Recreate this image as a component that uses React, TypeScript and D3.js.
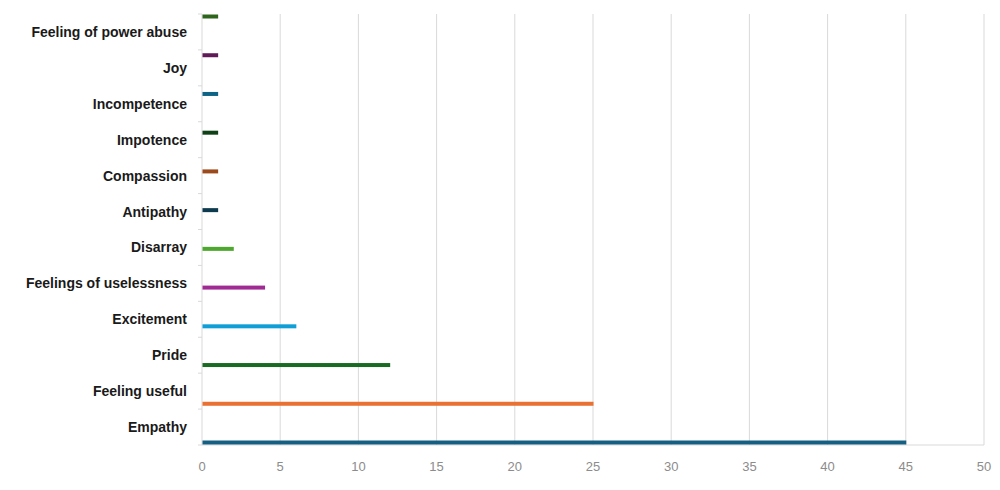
import React from "react";
import * as d3 from "d3";

const categories = [
  "Feeling of power abuse",
  "Joy",
  "Incompetence",
  "Impotence",
  "Compassion",
  "Antipathy",
  "Disarray",
  "Feelings of uselessness",
  "Excitement",
  "Pride",
  "Feeling useful",
  "Empathy",
];
const values = [1, 1, 1, 1, 1, 1, 2, 4, 6, 12, 25, 45];
const colors = [
  "#2f641c",
  "#601a58",
  "#0f6385",
  "#0f4016",
  "#9c4a1c",
  "#0d3a4e",
  "#4ea72e",
  "#a02b93",
  "#0f9ed5",
  "#196b24",
  "#e97132",
  "#156082",
];
const xTicks = [0, 5, 10, 15, 20, 25, 30, 35, 40, 45, 50];

const W = 1000;
const H = 490;
const left = 202;
const right = 984;
const top = 14;
const bottom = 445;

export default function App() {
  const x = d3.scaleLinear().domain([0, 50]).range([left, right]);
  const y = d3.scaleBand<string>().domain(categories).range([top, bottom]).paddingInner(0);
  const bw = y.bandwidth();
  // series order: Empathy (last category) is series 0 at bottom of cluster
  const seriesIdx = categories.map((_, i) => i);
  const inner = d3
    .scaleBand<number>()
    .domain(seriesIdx)
    .range([bw - 1.1, 1.1]);
  const barH = 4;

  return (
    <svg
      width={W}
      height={H}
      style={{ position: "absolute", left: 0, top: 0, background: "#fff" }}
      fontFamily="'Liberation Sans', Arial, sans-serif"
    >
      {/* grid */}
      {xTicks.slice(1).map((t) => (
        <line key={t} x1={x(t)} x2={x(t)} y1={top} y2={bottom} stroke="#d9d9d9" strokeWidth={1} />
      ))}
      {/* bottom axis line */}
      <line x1={left} x2={right} y1={bottom} y2={bottom} stroke="#d9d9d9" strokeWidth={1} />
      {/* left axis line */}
      <line x1={left} x2={left} y1={top} y2={bottom} stroke="#d9d9d9" strokeWidth={1} />
      {/* category tick marks */}
      {categories.map((c) => (
        <line key={"t" + c} x1={left - 4} x2={left} y1={y(c)!} y2={y(c)!} stroke="#d9d9d9" strokeWidth={1} />
      ))}
      <line x1={left - 4} x2={left} y1={bottom} y2={bottom} stroke="#d9d9d9" strokeWidth={1} />
      {/* bars */}
      {categories.map((c, i) => {
        const s = categories.length - 1 - i;
        const cy = y(c)! + inner(s)! + inner.bandwidth() / 2;
        return (
          <rect
            key={"b" + c}
            x={x(0) + 0.5}
            y={cy - barH / 2}
            width={x(values[i]) - x(0)}
            height={barH}
            fill={colors[i]}
          />
        );
      })}
      {/* category labels */}
      {categories.map((c) => (
        <text
          key={"l" + c}
          x={187}
          y={y(c)! + bw / 2}
          textAnchor="end"
          dominantBaseline="central"
          fontSize={14}
          fontWeight="bold"
          fill="#1a1a1a"
        >
          {c}
        </text>
      ))}
      {/* x tick labels */}
      {xTicks.map((t) => (
        <text
          key={"x" + t}
          x={x(t)}
          y={466}
          textAnchor="middle"
          dominantBaseline="central"
          fontSize={13}
          fill="#8c8c8c"
        >
          {t}
        </text>
      ))}
    </svg>
  );
}
